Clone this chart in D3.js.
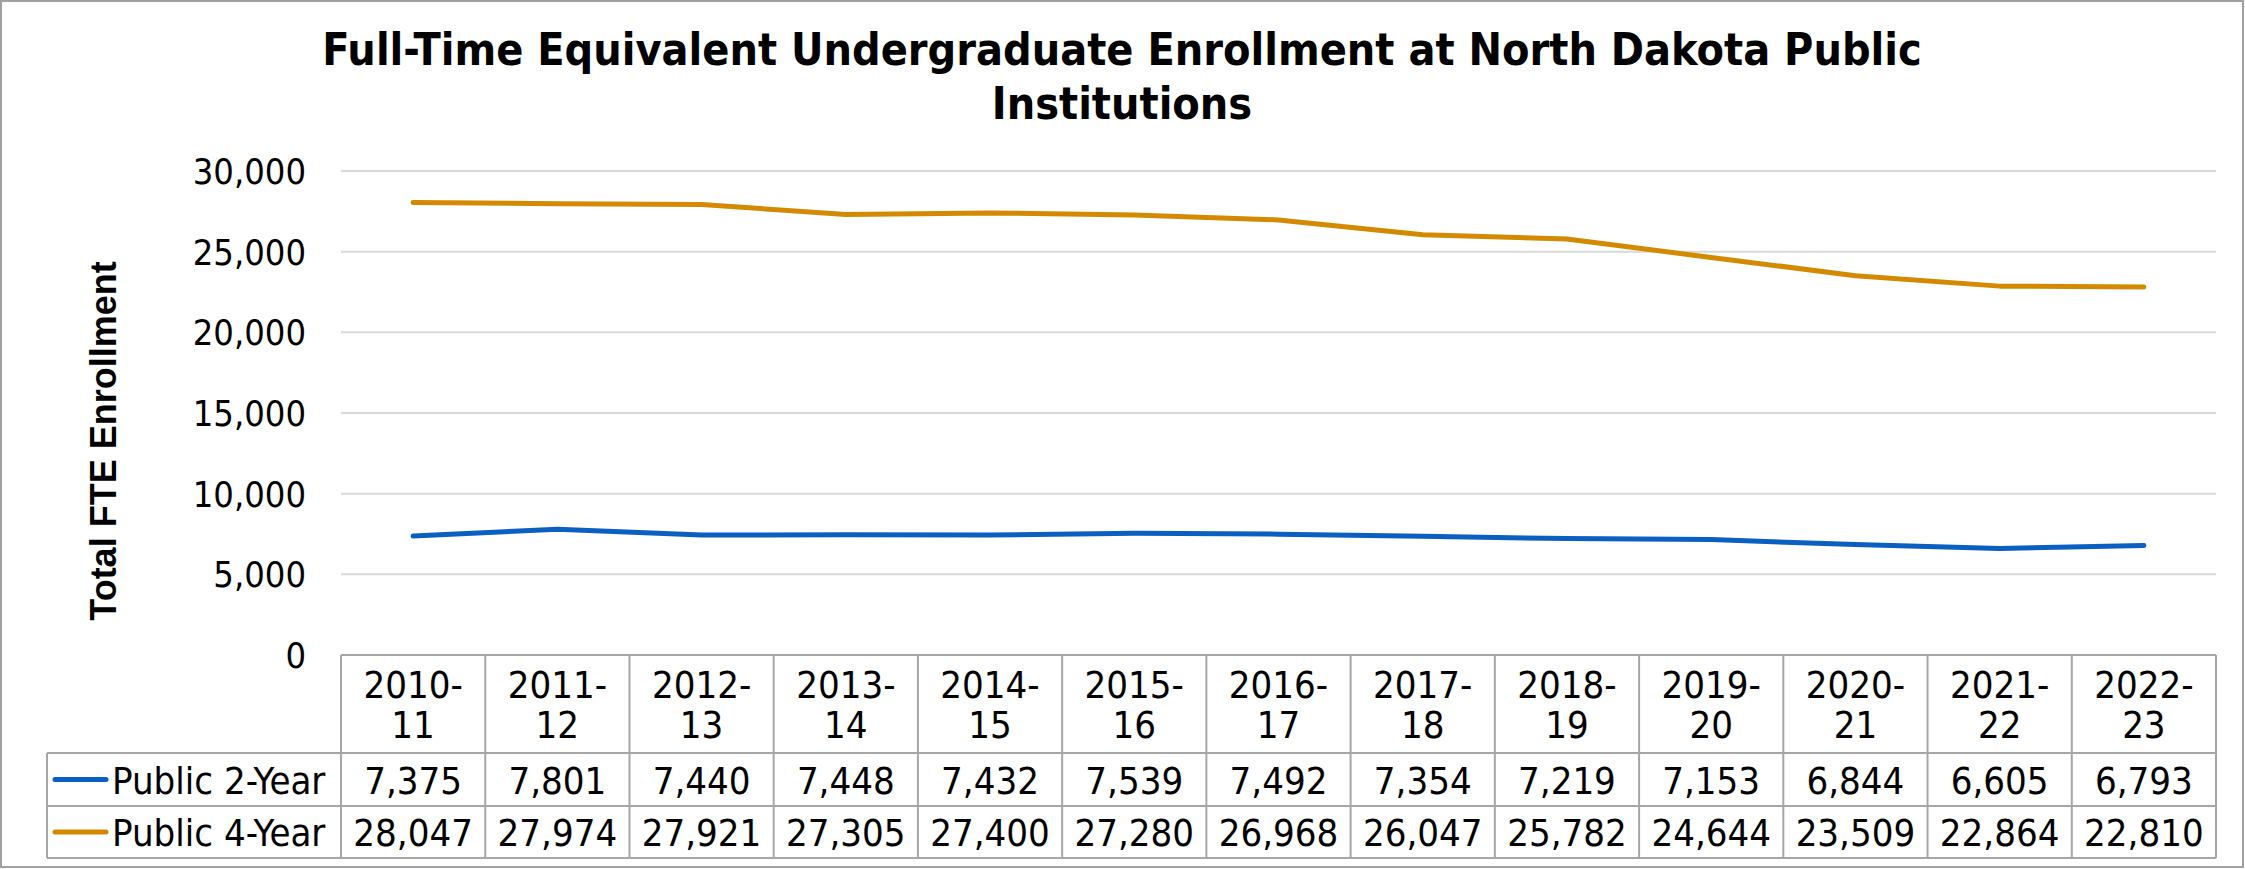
<!DOCTYPE html>
<html>
<head>
<meta charset="utf-8">
<script src="https://cdn.jsdelivr.net/npm/d3@7"></script>
<style>
  body { margin: 0; background: #fff; }
  svg text { font-family: "DejaVu Sans Condensed", "DejaVu Sans", sans-serif; fill: #000; }
</style>
</head>
<body>
<div id="chart"></div>
<script>
var years = ["2010-11", "2011-12", "2012-13", "2013-14", "2014-15", "2015-16", "2016-17",
             "2017-18", "2018-19", "2019-20", "2020-21", "2021-22", "2022-23"];
var public2 = [7375, 7801, 7440, 7448, 7432, 7539, 7492, 7354, 7219, 7153, 6844, 6605, 6793];
var public4 = [28047, 27974, 27921, 27305, 27400, 27280, 26968, 26047, 25782, 24644, 23509, 22864, 22810];
var seriesNames = ["Public 2-Year", "Public 4-Year"];
var yTicks = [0, 5000, 10000, 15000, 20000, 25000, 30000];

var W = 2245, H = 869;
var plotLeft = 341, plotRight = 2216, plotTop = 171, plotBottom = 655;
var rowH = [98, 53, 52];
var colors = ["#0a5fc0", "#d48a00"];
var fmt = d3.format(",");

var svg = d3.select("#chart").append("svg")
    .attr("width", W)
    .attr("height", H);

// frame
svg.append("rect")
    .attr("x", 1).attr("y", 1)
    .attr("width", W - 3).attr("height", H - 3)
    .attr("fill", "#fff")
    .attr("stroke", "#a0a0a0")
    .attr("stroke-width", 2);

var x = d3.scaleBand().domain(years).range([plotLeft, plotRight]);
var y = d3.scaleLinear().domain([0, 30000]).range([plotBottom, plotTop]);

// gridlines
svg.append("g").selectAll("line")
    .data(yTicks.filter(function (d) { return d > 0; }))
    .enter().append("line")
    .attr("x1", plotLeft).attr("x2", plotRight)
    .attr("y1", function (d) { return y(d); })
    .attr("y2", function (d) { return y(d); })
    .attr("stroke", "#d9d9d9")
    .attr("stroke-width", 2);

// y axis labels
svg.append("g").selectAll("text")
    .data(yTicks)
    .enter().append("text")
    .attr("x", 306)
    .attr("y", function (d) { return y(d) + 13; })
    .attr("text-anchor", "end")
    .attr("font-size", 36)
    .text(function (d) { return fmt(d); });

// y axis title
svg.append("text")
    .attr("transform", "translate(116,441) rotate(-90)")
    .attr("text-anchor", "middle")
    .attr("font-size", 36)
    .attr("font-weight", "bold")
    .style("font-family", "'Liberation Sans', Arial, sans-serif")
    .text("Total FTE Enrollment");

// lines
var line = d3.line()
    .x(function (d, i) { return x(years[i]) + x.bandwidth() / 2; })
    .y(function (d) { return y(d); });

[public2, public4].forEach(function (s, k) {
  svg.append("path")
      .datum(s)
      .attr("d", line)
      .attr("fill", "none")
      .attr("stroke", colors[k])
      .attr("stroke-width", 5)
      .attr("stroke-linecap", "round")
      .attr("stroke-linejoin", "round");
});

// data table
var tbl = svg.append("g");
var r0 = plotBottom, r1 = r0 + rowH[0], r2 = r1 + rowH[1], r3 = r2 + rowH[2];
var legLeft = 47;
var gridCol = "#a6a6a6";

function hline(x1, x2, yy) {
  tbl.append("line").attr("x1", x1).attr("x2", x2).attr("y1", yy).attr("y2", yy)
     .attr("stroke", gridCol).attr("stroke-width", 2);
}
function vline(xx, y1, y2) {
  tbl.append("line").attr("x1", xx).attr("x2", xx).attr("y1", y1).attr("y2", y2)
     .attr("stroke", gridCol).attr("stroke-width", 2);
}

hline(plotLeft, plotRight, r0);
hline(legLeft, plotRight, r1);
hline(legLeft, plotRight, r2);
hline(legLeft, plotRight, r3);
vline(legLeft, r1, r3);
years.forEach(function (yr) { vline(x(yr), r0, r3); });
vline(plotRight, r0, r3);

// header labels
years.forEach(function (yr) {
  var parts = yr.split("-");
  var cx = x(yr) + x.bandwidth() / 2;
  var t = tbl.append("text")
      .attr("text-anchor", "middle")
      .attr("font-size", 38);
  t.append("tspan").attr("x", cx).attr("y", 698).text(parts[0] + "-");
  t.append("tspan").attr("x", cx).attr("y", 738).text(parts[1]);
});

// value rows
[public2, public4].forEach(function (s, k) {
  var base = k === 0 ? 794 : 846;
  var mid = k === 0 ? (r1 + r2) / 2 : (r2 + r3) / 2;
  tbl.selectAll(".v" + k)
      .data(s)
      .enter().append("text")
      .attr("class", "v" + k)
      .attr("x", function (d, i) { return x(years[i]) + x.bandwidth() / 2; })
      .attr("y", base)
      .attr("text-anchor", "middle")
      .attr("font-size", 38)
      .text(function (d) { return fmt(d); });

  tbl.append("line")
      .attr("x1", 55).attr("x2", 106)
      .attr("y1", mid).attr("y2", mid)
      .attr("stroke", colors[k])
      .attr("stroke-width", 5)
      .attr("stroke-linecap", "round");
  tbl.append("text")
      .attr("x", 112)
      .attr("y", base)
      .attr("font-size", 38)
      .text(seriesNames[k]);
});

// title
var title = svg.append("text")
    .attr("text-anchor", "middle")
    .attr("font-size", 44.5)
    .attr("font-weight", "bold");
title.append("tspan").attr("x", 1122).attr("y", 65)
    .text("Full-Time Equivalent Undergraduate Enrollment at North Dakota Public");
title.append("tspan").attr("x", 1122).attr("y", 119)
    .text("Institutions");
</script>
</body>
</html>
